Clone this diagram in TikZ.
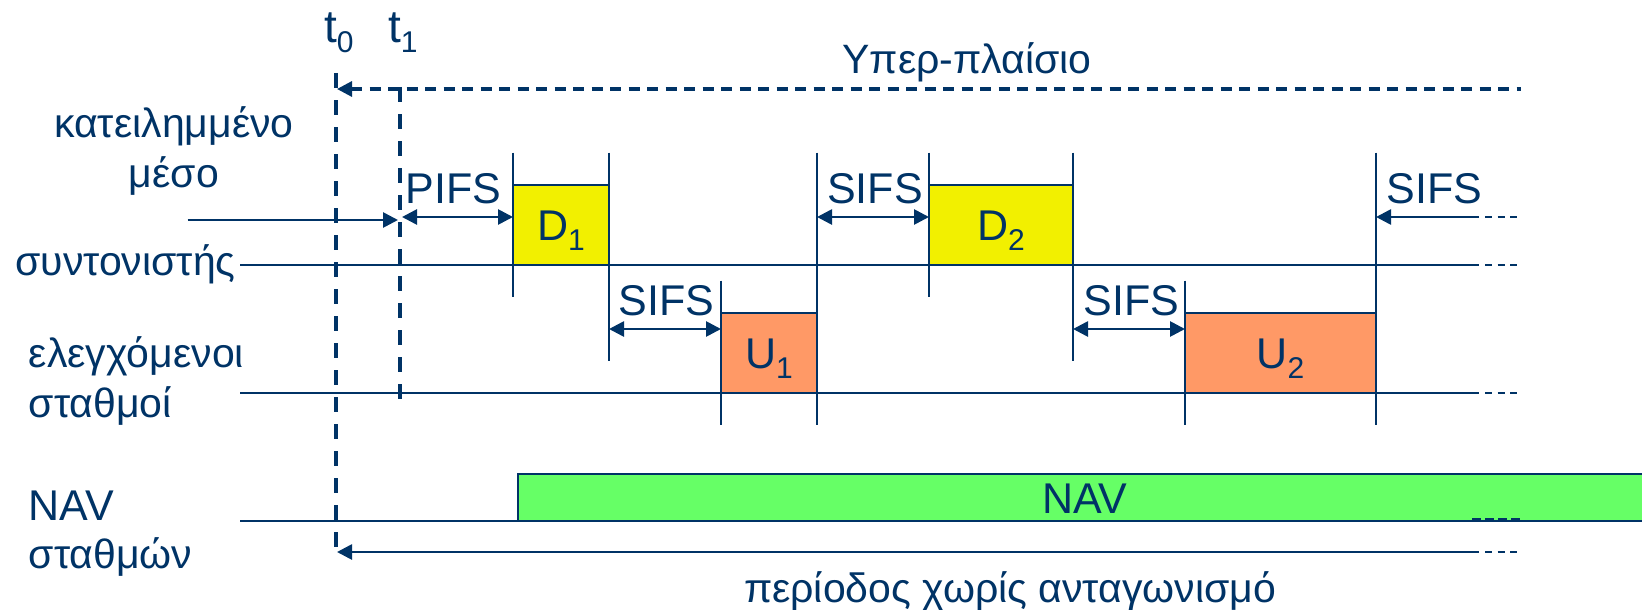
\documentclass[tikz,border=0pt]{standalone}
\usepackage{fontspec}
\setmainfont{Liberation Sans}
\usetikzlibrary{arrows.meta}
\definecolor{navy}{RGB}{0,51,102}
\definecolor{yel}{RGB}{242,240,0}
\definecolor{ora}{RGB}{255,153,102}
\definecolor{grn}{RGB}{102,255,102}
\newcommand\lblfont{\fontsize{41}{50}\selectfont}
\newcommand\capfont{\fontsize{43}{50}\selectfont}
\newcommand\tfont{\fontsize{46}{50}\selectfont}
\newcommand\subsc[1]{\raisebox{-10pt}{\fontsize{30}{30}\selectfont #1}}
\begin{document}
\begin{tikzpicture}[x=1pt,y=-1pt,
  >={Triangle[length=15pt,width=15pt]},
  lbl/.style={text=navy,font=\lblfont,inner sep=0pt,anchor=base},
  lblw/.style={lbl,anchor=base west},
  clbl/.style={lbl,font=\capfont},
  ln/.style={draw=navy,line width=2.7pt},
  tickln/.style={draw=navy,line width=2.2pt},
  vdash/.style={draw=navy,line width=3.4pt,dash pattern=on 15pt off 12pt},
  hdash/.style={draw=navy,line width=3.2pt,dash pattern=on 11pt off 7.5pt},
  tail/.style={draw=navy,line width=2.7pt,dash pattern=on 7pt off 5.5pt},
  box/.style={draw=navy,line width=2.2pt,minimum height=80pt,inner sep=0pt,outer sep=0pt,anchor=north west}]
\useasboundingbox (0,0) rectangle (1642,610);

% time markers
\coordinate (t0a) at (336,73); \coordinate (t0b) at (336,552);
\coordinate (t1a) at (400,87); \coordinate (t1b) at (400,408);
\draw[vdash] (t0a) -- (t0b);
\draw[vdash] (t1a) -- (t1b);

% superframe
\coordinate (sfL) at (337,89); \coordinate (sfR) at (1521,89);
\draw[hdash,<-] (sfL) -- (sfR);

% horizontal lines
\coordinate (cL) at (240,265); \coordinate (cR) at (1479,265);
\coordinate (cT) at (1485,265); \coordinate (cE) at (1521,265);
\draw[ln] (cL) -- (cR); \draw[tail] (cT) -- (cE);
\coordinate (sL) at (240,393); \coordinate (sR) at (1479,393);
\coordinate (sT) at (1485,393); \coordinate (sE) at (1521,393);
\draw[ln] (sL) -- (sR); \draw[tail] (sT) -- (sE);
\coordinate (nL) at (240,521);

% boxes
\node[box,fill=yel,minimum width=96pt] (D1) at (513,185) {};
\node[box,fill=ora,minimum width=96pt] (U1) at (721,313) {};
\node[box,fill=yel,minimum width=144pt] (D2) at (929,185) {};
\node[box,fill=ora,minimum width=191pt] (U2) at (1185,313) {};
\node[box,fill=grn,minimum width=1150pt,minimum height=47pt] (NB) at (518,474) {};
\draw[ln] (nL) -- (NB.south west);
\coordinate (nT) at (1472,519.5); \coordinate (nE) at (1521,519.5);
\draw[tail,dash pattern=on 9pt off 4pt] (nT) -- (nE);

% ticks
\draw[tickln] (513,152.7) -- (513,296.7);
\draw[tickln] (609,152.7) -- (609,361);
\draw[tickln] (721,280.7) -- (721,425);
\draw[tickln] (817,152.7) -- (817,425);
\draw[tickln] (929,152.7) -- (929,296.7);
\draw[tickln] (1073,152.7) -- (1073,361);
\draw[tickln] (1185,280.7) -- (1185,425);
\draw[tickln] (1376,152.7) -- (1376,425);

% arrows
\coordinate (la) at (187.5,220); \coordinate (lb) at (398,220);
\draw[ln,->] (la) -- (lb);
\coordinate (pa) at (402,217);
\draw[ln,<->] (pa) -- (D1.north west |- pa);
\draw[ln,<->] (D1.north east |- 0,329) -- (U1.north west |- 0,329);
\draw[ln,<->] (U1.north east |- 0,217) -- (D2.north west |- 0,217);
\draw[ln,<->] (D2.north east |- 0,329) -- (U2.north west |- 0,329);
\coordinate (ra) at (1479,217); \coordinate (rT) at (1485,217); \coordinate (rE) at (1521,217);
\draw[ln,->] (ra) -- (U2.north east |- ra);
\draw[tail] (rT) -- (rE);
\coordinate (bL) at (337,552); \coordinate (bR) at (1479,552);
\coordinate (bT) at (1485,552); \coordinate (bE) at (1521,552);
\draw[ln,->] (bR) -- (bL);
\draw[tail] (bT) -- (bE);

% labels
\node[lblw,font=\tfont] (lt0) at (324,43) {t\subsc{0}};
\node[lblw,font=\tfont] (lt1) at (388,43) {t\subsc{1}};
\node[lbl] (lsf) at (967,74) {Υπερ-πλαίσιο};
\node[lbl] (lk1) at (174,137) {κατειλημμένο};
\node[lbl] (lk2) at (174,187) {μέσο};
\node[lbl] (lco) at (125.5,275) {συντονιστής};
\node[lblw] (le1) at (28.6,367) {ελεγχόμενοι};
\node[lblw] (le2) at (28.6,417) {σταθμοί};
\node[lblw,font=\capfont] (ln1) at (28.6,520) {NAV};
\node[lblw] (ln2) at (28.6,568) {σταθμών};
\node[clbl] (lpifs) at (453.6,203) {PIFS};
\node[clbl] (ls1) at (666.5,315) {SIFS};
\node[clbl] (ls2) at (875,203) {SIFS};
\node[clbl] (ls3) at (1131.5,315) {SIFS};
\node[clbl] (ls4) at (1434.5,203) {SIFS};
\node[clbl] (lD1) at ([yshift=-15pt]D1.center) {D\subsc{1}};
\node[clbl] (lU1) at ([yshift=-15pt]U1.center) {U\subsc{1}};
\node[clbl] (lD2) at ([yshift=-15pt]D2.center) {D\subsc{2}};
\node[clbl] (lU2) at ([yshift=-15pt]U2.center) {U\subsc{2}};
\node[clbl] (lnav) at (1085,513) {NAV};
\node[lbl] (lper) at (1010,602) {περίοδος χωρίς ανταγωνισμό};
\end{tikzpicture}
\end{document}
